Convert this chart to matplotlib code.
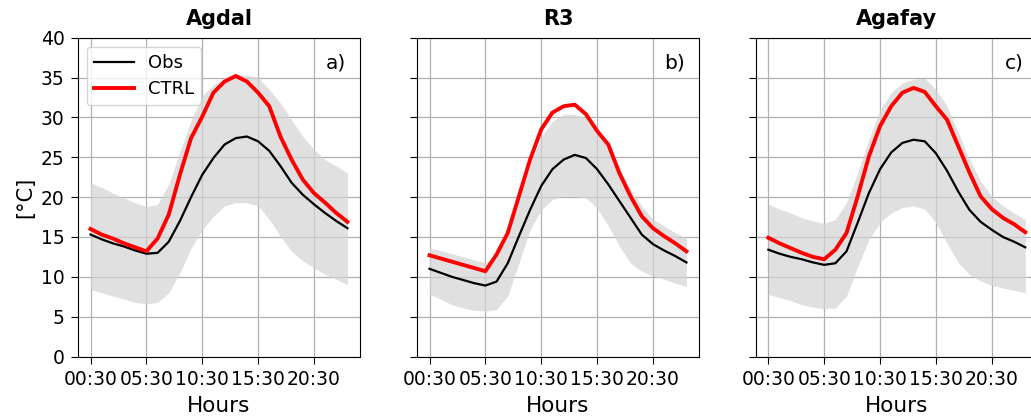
import numpy as np
import matplotlib
matplotlib.use("Agg")
import matplotlib.pyplot as plt

hours = list(range(24))
tick_pos = [0, 5, 10, 15, 20]
tick_labels = ["00:30", "05:30", "10:30", "15:30", "20:30"]
titles = ["Agdal", "R3", "Agafay"]
panel_tags = ["a)", "b)", "c)"]

obs_agdal = [15.3, 14.7, 14.2, 13.8, 13.3, 12.9, 13.0, 14.4, 17.0, 20.0, 22.8, 24.9,
             26.6, 27.4, 27.6, 27.0, 25.8, 23.9, 21.8, 20.3, 19.1, 18.0, 17.0, 16.1]
ctrl_agdal = [16.0, 15.3, 14.8, 14.2, 13.7, 13.2, 14.8, 17.8, 22.8, 27.4, 30.1, 33.1,
              34.5, 35.2, 34.5, 33.1, 31.4, 27.6, 24.7, 22.2, 20.5, 19.3, 18.0, 16.9]
up_agdal = [21.8, 21.2, 20.5, 19.9, 19.3, 18.8, 19.1, 21.6, 25.7, 29.6, 32.7, 34.1,
            35.0, 35.3, 35.3, 35.0, 33.5, 31.8, 29.7, 27.6, 26.0, 24.7, 23.9, 23.0]
lo_agdal = [8.4, 8.0, 7.6, 7.2, 6.8, 6.6, 6.8, 8.0, 10.5, 13.6, 15.9, 17.6,
            18.9, 19.3, 19.3, 18.9, 17.2, 15.1, 13.2, 12.0, 11.1, 10.3, 9.7, 9.0]

obs_r3 = [11.0, 10.5, 10.0, 9.6, 9.2, 8.9, 9.4, 11.7, 15.1, 18.4, 21.4, 23.5,
          24.7, 25.3, 24.9, 23.5, 21.6, 19.5, 17.4, 15.3, 14.1, 13.3, 12.6, 11.8]
ctrl_r3 = [12.7, 12.3, 11.9, 11.5, 11.1, 10.7, 12.8, 15.5, 20.1, 24.7, 28.5, 30.6,
           31.4, 31.6, 30.4, 28.3, 26.6, 23.0, 20.1, 17.6, 16.1, 15.1, 14.2, 13.2]
up_r3 = [13.6, 13.3, 12.9, 12.5, 12.1, 11.8, 12.6, 15.5, 19.7, 23.9, 27.6, 29.5,
         30.4, 30.4, 29.9, 28.3, 26.0, 23.5, 21.0, 18.9, 17.2, 16.4, 15.5, 14.9]
lo_r3 = [7.8, 7.2, 6.5, 6.1, 5.8, 5.7, 5.9, 7.6, 11.7, 15.9, 18.4, 19.7,
         20.1, 20.1, 19.9, 18.6, 16.4, 13.8, 11.7, 10.7, 10.1, 9.7, 9.2, 8.8]

obs_agafay = [13.4, 12.9, 12.5, 12.2, 11.8, 11.5, 11.7, 13.2, 16.8, 20.5, 23.5, 25.6,
              26.8, 27.2, 27.0, 25.5, 23.3, 20.7, 18.4, 16.9, 15.9, 15.0, 14.4, 13.7]
ctrl_agafay = [14.9, 14.2, 13.6, 13.0, 12.5, 12.2, 13.4, 15.5, 20.1, 25.1, 28.9, 31.4,
               33.1, 33.7, 33.2, 31.4, 29.7, 26.4, 23.1, 20.1, 18.5, 17.4, 16.6, 15.6]
up_agafay = [19.1, 18.5, 18.0, 17.4, 17.0, 16.7, 17.2, 19.3, 23.1, 27.2, 31.0, 33.1,
             34.3, 34.8, 34.9, 33.5, 31.4, 28.1, 24.7, 22.0, 20.1, 18.9, 18.0, 17.2]
lo_agafay = [7.8, 7.4, 7.0, 6.5, 6.2, 6.0, 6.1, 7.6, 11.3, 14.7, 16.8, 18.0,
             18.7, 18.9, 18.5, 16.8, 14.2, 11.8, 10.3, 9.5, 8.9, 8.6, 8.3, 8.0]

obs_all = [obs_agdal, obs_r3, obs_agafay]
ctrl_all = [ctrl_agdal, ctrl_r3, ctrl_agafay]
up_all = [up_agdal, up_r3, up_agafay]
lo_all = [lo_agdal, lo_r3, lo_agafay]

fig = plt.figure(figsize=(10.31, 4.19), dpi=100)
W, H = 1031.0, 419.0
lefts = [77.7, 416.7, 755.5]
width = 282.6
bottom = 1 - 356.5 / H
height = (356.5 - 37.7) / H

axes = []
for i in range(3):
    if i == 0:
        ax = fig.add_axes([lefts[i] / W, bottom, width / W, height])
    else:
        ax = fig.add_axes([lefts[i] / W, bottom, width / W, height], sharey=axes[0])
    axes.append(ax)
    ax.fill_between(hours, lo_all[i], up_all[i], color="#d3d3d3", alpha=0.7,
                    linewidth=0, zorder=1)
    ax.plot(hours, obs_all[i], color="black", lw=1.6, label="Obs", zorder=3)
    ax.plot(hours, ctrl_all[i], color="red", lw=2.8, label="CTRL", zorder=4)
    ax.set_ylim(0, 40)
    ax.set_yticks(range(0, 41, 5))
    ax.set_xticks(tick_pos)
    ax.set_xticklabels(tick_labels)
    ax.tick_params(labelsize=13.5, length=5, pad=4.5)
    ax.grid(True, color="#b0b0b0", lw=0.9, zorder=0)
    ax.set_axisbelow(True)
    ax.set_title(titles[i], fontsize=15, fontweight="bold", pad=9)
    ax.set_xlabel("Hours", fontsize=15.5, labelpad=5)
    ax.text(0.948, 0.952, panel_tags[i], transform=ax.transAxes, ha="right",
            va="top", fontsize=14.5)
    if i > 0:
        plt.setp(ax.get_yticklabels(), visible=False)

axes[0].set_ylabel("[°C]", fontsize=15, labelpad=4)
axes[0].legend(loc="upper left", fontsize=13, handlelength=2.2,
               borderaxespad=0.5, labelspacing=0.45)

fig.savefig("out.png", dpi=100)
